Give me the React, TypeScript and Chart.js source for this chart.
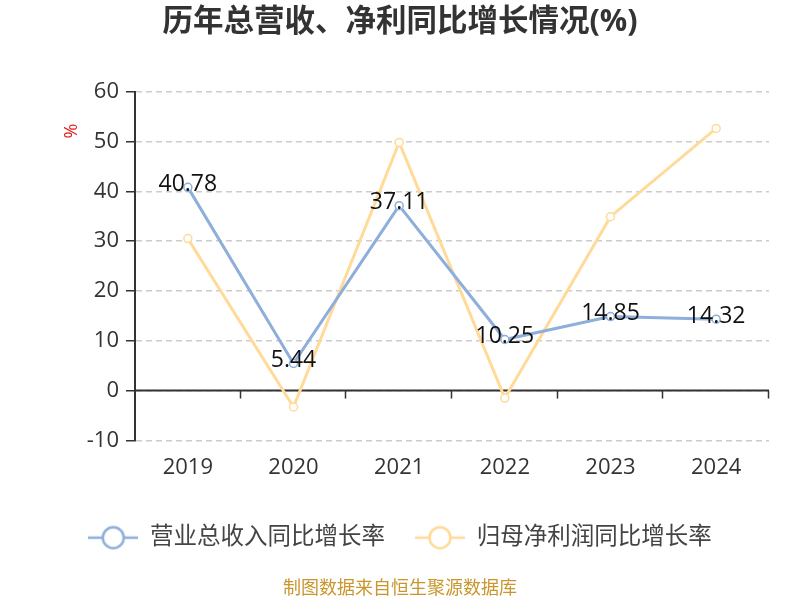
import React, { useEffect, useRef } from "react";
import { Chart, registerables } from "chart.js";

Chart.register(...registerables);

const categories = ["2019", "2020", "2021", "2022", "2023", "2024"];
const revenueGrowth = [40.78, 5.44, 37.11, 10.25, 14.85, 14.32];
const profitGrowth = [30.5, -3.3, 49.8, -1.5, 34.9, 52.6];
const seriesNames = ["营业总收入同比增长率", "归母净利润同比增长率"];
const yMin = -10;
const yMax = 60;
const yStep = 10;
const titleText = "历年总营收、净利同比增长情况(%)";
const footerText = "制图数据来自恒生聚源数据库";
const yUnit = "%";

const FONT = '"Open Sans", "Noto Sans CJK SC", sans-serif';
const BLUE = "rgb(142,174,219)";
const ORANGE = "rgb(255,218,153)";

function legendIcon(color: string) {
  const c = document.createElement("canvas");
  c.width = 50;
  c.height = 26;
  const ctx = c.getContext("2d")!;
  ctx.strokeStyle = color;
  ctx.lineWidth = 2.5;
  ctx.beginPath();
  ctx.moveTo(0, 13);
  ctx.lineTo(50, 13);
  ctx.stroke();
  ctx.fillStyle = "#fff";
  ctx.beginPath();
  ctx.arc(25, 13, 10.5, 0, Math.PI * 2);
  ctx.fill();
  ctx.stroke();
  return c;
}

const extrasPlugin = {
  id: "extras",
  beforeDatasetsDraw(chart: any) {
    const { ctx, chartArea, scales } = chart;
    const y = scales.y;
    const y0 = y.getPixelForValue(0);
    ctx.save();
    ctx.strokeStyle = "#333";
    ctx.lineWidth = 2;
    ctx.beginPath();
    ctx.moveTo(chartArea.left, y0);
    ctx.lineTo(chartArea.right, y0);
    ctx.stroke();
    const n = categories.length;
    const step = (chartArea.right - chartArea.left) / n;
    ctx.lineWidth = 1.5;
    for (let i = 1; i <= n; i++) {
      const px = Math.round(chartArea.left + step * i) - 0.5;
      ctx.beginPath();
      ctx.moveTo(px, y0);
      ctx.lineTo(px, y0 + 8);
      ctx.stroke();
    }
    ctx.fillStyle = "#e0201c";
    ctx.font = `18px ${FONT}`;
    ctx.textAlign = "center";
    ctx.textBaseline = "middle";
    ctx.translate(72, 131);
    ctx.rotate(-Math.PI / 2);
    ctx.fillText(yUnit, 0, 0);
    ctx.restore();
  },
  afterDatasetsDraw(chart: any) {
    const { ctx } = chart;
    const meta = chart.getDatasetMeta(0);
    ctx.save();
    ctx.fillStyle = "#111";
    ctx.font = `23px ${FONT}`;
    ctx.textAlign = "center";
    ctx.textBaseline = "middle";
    meta.data.forEach((pt: any, i: number) => {
      ctx.fillText(revenueGrowth[i].toFixed(2), pt.x, pt.y - 3);
    });
    ctx.restore();
  },
};

export default function App() {
  const ref = useRef<HTMLCanvasElement | null>(null);
  useEffect(() => {
    document.body.style.margin = "0";
    const canvas = ref.current!;
    const icons = [legendIcon(BLUE), legendIcon(ORANGE)];
    const chart = new Chart(canvas, {
      type: "line",
      data: {
        labels: categories,
        datasets: [
          {
            label: seriesNames[0],
            data: revenueGrowth,
            borderColor: BLUE,
            backgroundColor: "#fff",
            borderWidth: 3,
            pointStyle: "circle",
            pointRadius: 4,
            pointBorderWidth: 1.5,
            pointBackgroundColor: "#fff",
            pointBorderColor: BLUE,
            tension: 0,
          },
          {
            label: seriesNames[1],
            data: profitGrowth,
            borderColor: ORANGE,
            backgroundColor: "#fff",
            borderWidth: 3,
            pointStyle: "circle",
            pointRadius: 4,
            pointBorderWidth: 1.5,
            pointBackgroundColor: "#fff",
            pointBorderColor: ORANGE,
            tension: 0,
          },
        ],
      },
      options: {
        responsive: false,
        animation: false,
        layout: { padding: { left: 31, right: 31, top: 0, bottom: 0 } },
        plugins: {
          title: {
            display: true,
            text: titleText,
            color: "#333",
            font: { family: FONT, size: 30.5, weight: "bold" },
            padding: { top: 4, bottom: 51 },
          },
          subtitle: {
            display: true,
            text: footerText,
            position: "bottom",
            color: "rgb(200,150,45)",
            font: { family: FONT, size: 18 },
            padding: { top: 19, bottom: 0 },
          },
          legend: {
            display: true,
            position: "bottom",
            labels: {
              usePointStyle: true,
              pointStyleWidth: 50,
              padding: 30,
              color: "#444",
              font: { family: FONT, size: 23.5 },
              generateLabels: (ch: any) =>
                ch.data.datasets.map((ds: any, i: number) => ({
                  text: ds.label,
                  pointStyle: icons[i],
                  fillStyle: "#fff",
                  strokeStyle: ds.borderColor,
                  lineWidth: 0,
                  hidden: false,
                  datasetIndex: i,
                  fontColor: "#444",
                })),
            },
          },
          tooltip: { enabled: false },
        },
        scales: {
          x: {
            type: "category",
            offset: true,
            border: { display: false },
            grid: { display: false },
            ticks: {
              color: "#333",
              font: { family: FONT, size: 22 },
              padding: 6,
              maxRotation: 0,
            },
            afterFit: (s: any) => {
              s.height = 55.5;
            },
          },
          y: {
            min: yMin,
            max: yMax,
            grid: {
              color: "#ccc",
              lineWidth: 1.5,
              tickLength: 9,
              tickColor: "#333",
              tickBorderDash: [],
              tickWidth: 1.5,
            },
            border: { display: true, color: "#333", width: 2, dash: [6, 4] },
            ticks: {
              stepSize: yStep,
              color: "#333",
              font: { family: FONT, size: 22 },
              padding: 7,
            },
            afterFit: (s: any) => {
              s.width = 104;
            },
          },
        },
      },
      plugins: [extrasPlugin],
    } as any);
    return () => chart.destroy();
  }, []);
  return <canvas ref={ref} width={800} height={600} style={{ display: "block" }} />;
}
